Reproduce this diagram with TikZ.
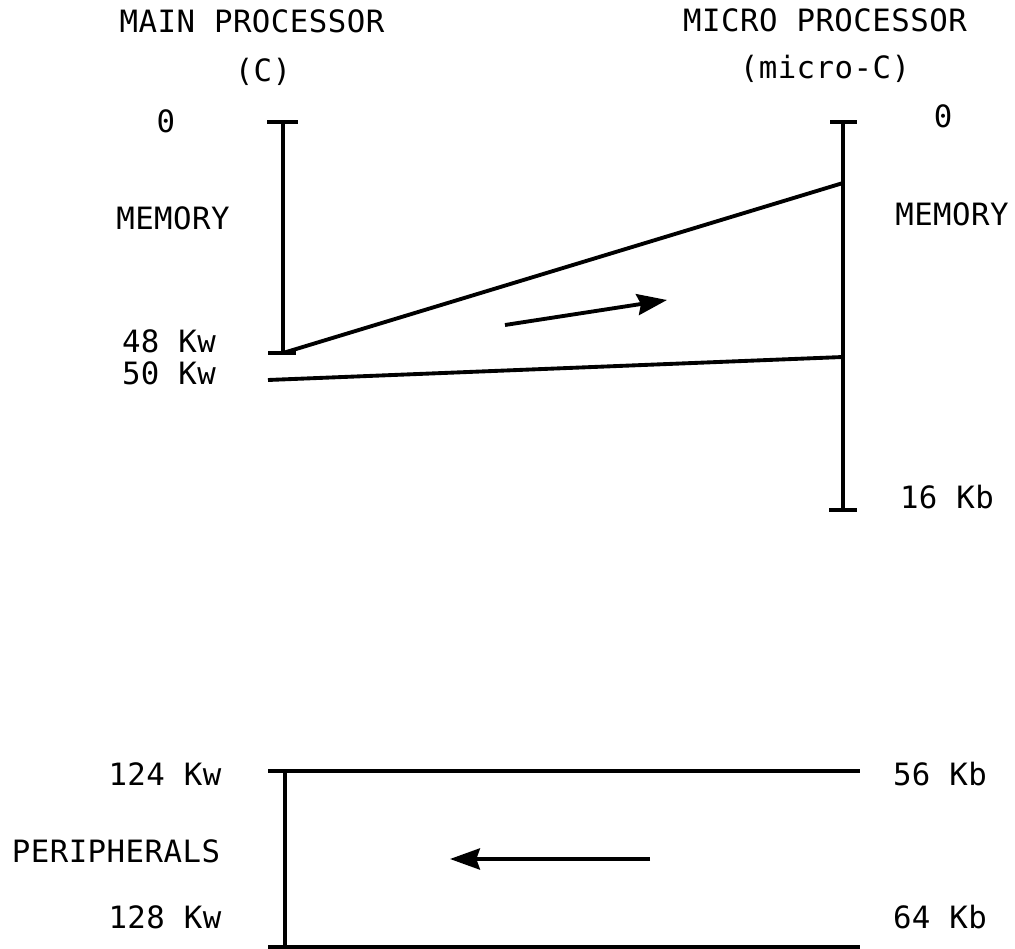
\documentclass[tikz,border=0pt]{standalone}
\usepackage{fontspec}
\setmainfont[LetterSpace=1.5]{DejaVu Sans Mono}
\usetikzlibrary{arrows.meta}
\tikzset{
  bar/.style={line width=2.2pt},
  lbl/.style={font=\fontsize{17.5}{20}\selectfont, inner sep=0pt, anchor=base},
  xfer/.style={line width=2.2pt, -{Stealth[length=17pt, width=12pt, inset=2pt]}},
}

\begin{document}
\begin{tikzpicture}[x=0.02cm, y=-0.02cm]
  \useasboundingbox (0,0) rectangle (1015,949);
  % main processor memory bar
  \coordinate (cT) at (283,122);
  \coordinate (c48) at (283,353);
  \coordinate (c50) at (268,380);
  \draw[bar] (267,122) -- (298,122);
  \draw[bar] (cT) -- (c48);
  \draw[bar] (268,353) -- (296,353);
  % micro processor memory bar
  \coordinate (uT) at (843,122);
  \coordinate (uB) at (843,510);
  \coordinate (u1) at (843,183);
  \coordinate (u2) at (843,357);
  \draw[bar] (830,122) -- (857,122);
  \draw[bar] (uT) -- (uB);
  \draw[bar] (829,510) -- (857,510);
  % mapping of the window
  \draw[bar] (c48) -- (u1);
  \draw[bar] (c50) -- (u2);
  \coordinate (a1) at (505,325);
  \coordinate (a2) at (667,300);
  \draw[xfer] (a1) -- (a2);
  % peripherals block
  \coordinate (pTL) at (268,771);
  \coordinate (pTR) at (860,771);
  \coordinate (pBL) at (268,947);
  \coordinate (pBR) at (860,947);
  \draw[bar] (pTL) -- (pTR);
  \draw[bar] (285,771) -- (285,949);
  \draw[bar] (pBL) -- (pBR);
  \coordinate (b1) at (650,859);
  \coordinate (b2) at (450,859);
  \draw[xfer] (b1) -- (b2);
  % labels
  \node[lbl] (tmain) at (252,33) {MAIN PROCESSOR};
  \node[lbl] (tc) at (263,82) {(C)};
  \node[lbl] (lzero) at (166,133) {0};
  \node[lbl] (lmem) at (173,230) {MEMORY};
  \node[lbl] (l48) at (169,353) {48 Kw};
  \node[lbl] (l50) at (169,385) {50 Kw};
  \node[lbl] (tmicro) at (825,32) {MICRO PROCESSOR};
  \node[lbl] (tuc) at (825,79) {(micro-C)};
  \node[lbl] (rzero) at (943,128) {0};
  \node[lbl] (rmem) at (952,226) {MEMORY};
  \node[lbl] (r16) at (947,509) {16 Kb};
  \node[lbl] (l124) at (165,785) {124 Kw};
  \node[lbl] (lper) at (116,862) {PERIPHERALS};
  \node[lbl] (l128) at (165,928) {128 Kw};
  \node[lbl] (r56) at (940,785) {56 Kb};
  \node[lbl] (r64) at (940,928) {64 Kb};
\end{tikzpicture}
\end{document}
